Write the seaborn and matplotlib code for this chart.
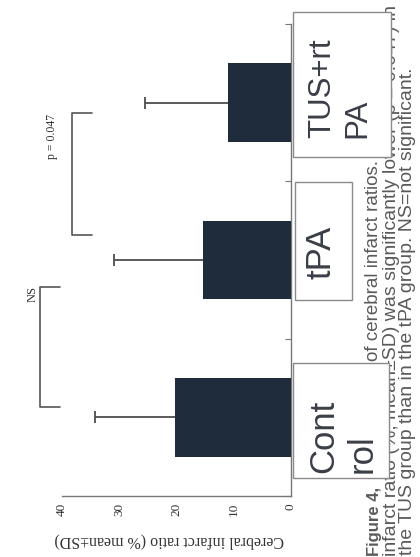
import matplotlib
matplotlib.use("Agg")
import matplotlib.pyplot as plt
import seaborn as sns
import pandas as pd
from matplotlib.patches import Rectangle

# ---- data ----
groups = ["Control", "tPA", "TUS+rtPA"]
means = [20.3, 15.4, 11.0]
sds = [14.0, 15.6, 14.5]
value_ticks = [0, 10, 20, 30, 40]
value_label = "Cerebral infarct ratio (% mean\u00b1SD)"
box_labels = ["Cont\nrol", "tPA", "TUS+rt\nPA"]
sig_labels = ["NS", "p = 0.047"]
caption_bold = "Figure 4,"
caption_lines = [
    "of cerebral infarct ratios.",
    "infarct ratio (%, mean\u00b1SD) was significantly lower (p = 0.047) in",
    "the TUS group than in the tPA group. NS=not significant.",
]

sns.set_style("white")
plt.rcParams["font.family"] = ["Liberation Sans", "DejaVu Sans"]

W, H = 420, 557
fig = plt.figure(figsize=(W / 100, H / 100), dpi=100)
fig.patch.set_facecolor("white")


def fx(px):
    return px / W


def fy(py):
    return 1 - py / H


ax = fig.add_axes([fx(62), fy(496), fx(291) - fx(62), fy(24) - fy(496)])

df = pd.DataFrame({"group": groups, "mean": means, "sd": sds})
sns.barplot(data=df, y="group", x="mean", order=groups, orient="h",
            color="#1f2c3b", saturation=1, width=0.5, errorbar=None,
            linewidth=0, ax=ax)
for p in ax.patches:
    p.set_zorder(3)
eb = ax.errorbar(df["mean"], range(len(groups)), xerr=[[0] * len(groups), df["sd"]],
                 fmt="none", ecolor="#4d4d4d", elinewidth=1.3, capsize=4,
                 capthick=1.3, zorder=1)
# hide the cap that sits on the bar end (one-sided error bars)
eb[1][0].set_visible(False)

ax.set_xlim(40, 0)
ax.set_ylim(-0.5, 2.5)
ax.set_xticks(value_ticks)
ax.set_xticklabels([str(v) for v in value_ticks], rotation=90,
                   family="Liberation Serif", fontsize=9.5, color="#333333")
ax.set_yticks([-0.5, 0.5, 1.5, 2.5])
ax.set_yticklabels([])
ax.yaxis.tick_right()
ax.tick_params(axis="x", direction="in", length=4, color="#777777", pad=5)
ax.tick_params(axis="y", direction="in", length=4, color="#777777")
for s in ["left", "top"]:
    ax.spines[s].set_visible(False)
for s in ["bottom", "right"]:
    ax.spines[s].set_color("#777777")
    ax.spines[s].set_linewidth(1.0)
ax.set_ylabel("")
ax.set_xlabel(value_label, rotation=180, family="Liberation Serif",
              fontsize=11.5, color="#333333")
ax.xaxis.set_label_coords(0.47, -0.078)

# significance brackets
br_kw = dict(color="#555555", lw=1.2, clip_on=False)
ax.plot([40.3, 43.8, 43.8, 40.3], [0.828, 0.828, 0.066, 0.066], **br_kw)
ax.plot([34.8, 38.3, 38.3, 34.8], [1.934, 1.934, 1.159, 1.159], **br_kw)
ax.text(45.2, 0.784, sig_labels[0], rotation=90, ha="center", va="center",
        family="Liberation Serif", fontsize=9, color="#333333", clip_on=False)
ax.text(41.7, 1.788, sig_labels[1], rotation=90, ha="center", va="center",
        family="Liberation Serif", fontsize=8.5, color="#333333", clip_on=False)

# caption (rotated)
cap_kw = dict(rotation=90, rotation_mode="anchor", ha="left", va="center",
              color="#5a5a5a", zorder=3)
fig.text(fx(374), fy(556), caption_bold, fontweight="bold", fontsize=12, **cap_kw)
fig.text(fx(374), fy(361), caption_lines[0], fontsize=13.5, **cap_kw)
fig.text(fx(391), fy(556), caption_lines[1], fontsize=14, **cap_kw)
fig.text(fx(407), fy(555), caption_lines[2], fontsize=14, **cap_kw)

# overlay label boxes
boxes = [(293, 363, 389, 478), (295, 182, 352, 300), (293, 12, 391, 157)]
text_anchor = [(343, 473), (321, 279), (340, 138)]
text_size = [25, 25, 22.5]
for (x0, y0, x1, y1), (tx, ty), fs, lab in zip(boxes, text_anchor, text_size, box_labels):
    fig.add_artist(Rectangle((fx(x0), fy(y1)), fx(x1) - fx(x0), fy(y0) - fy(y1),
                             transform=fig.transFigure, facecolor="white",
                             edgecolor="#8a8a8a", linewidth=1.0, zorder=5))
    fig.text(fx(tx), fy(ty), lab, rotation=90, rotation_mode="anchor",
             ha="left", va="center", multialignment="left",
             fontsize=fs, color="#3a3f47", zorder=6, linespacing=1.2)

fig.savefig("out.png", dpi=100)
